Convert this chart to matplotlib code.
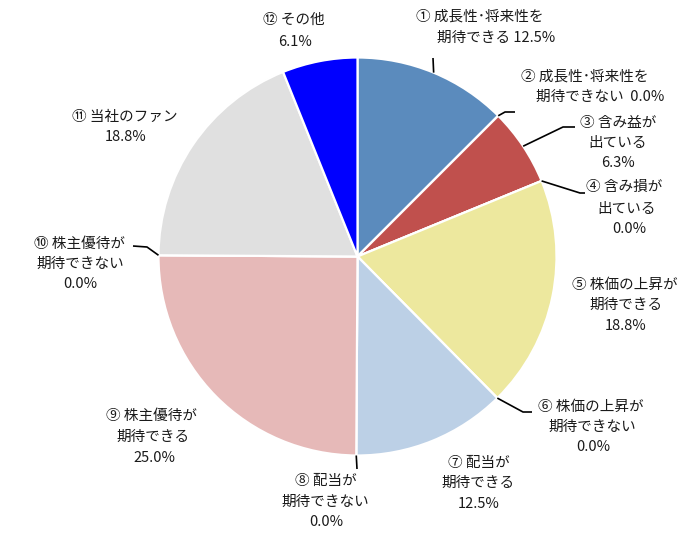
import numpy as np
import matplotlib
matplotlib.use("Agg")
import matplotlib.pyplot as plt

plt.rcParams['font.family'] = ['Noto Sans CJK JP', 'DejaVu Sans']

# ---- data ----
values = [12.5, 0.0, 6.3, 0.0, 18.8, 0.0, 12.5, 0.0, 25.0, 0.0, 18.8, 6.1]
label_lines = [
    ["① 成長性･将来性を", "期待できる 12.5%"],
    ["② 成長性･将来性を", "期待できない  0.0%"],
    ["③ 含み益が", "出ている", "6.3%"],
    ["④ 含み損が", "出ている", "0.0%"],
    ["⑤ 株価の上昇が", "期待できる", "18.8%"],
    ["⑥ 株価の上昇が", "期待できない", "0.0%"],
    ["⑦ 配当が", "期待できる", "12.5%"],
    ["⑧ 配当が", "期待できない", "0.0%"],
    ["⑨ 株主優待が", "期待できる", "25.0%"],
    ["⑩ 株主優待が", "期待できない", "0.0%"],
    ["⑪ 当社のファン", "18.8%"],
    ["⑫ その他", "6.1%"],
]
colors = ["#5B8BBD", "#C0504D", "#C0504D", "#EDE89E", "#EDE89E", "#BCD0E6",
          "#BCD0E6", "#E6B9B8", "#E6B9B8", "#E0E0E0", "#E0E0E0", "#0000FF"]

# ---- layout (pixel coords, y downward) ----
W, H = 690, 539
CX, CY, R = 357.5, 256.5, 199
line_pos = [
    [(480, 17), (496, 38)],
    [(585, 77), (600, 97)],
    [(618, 123), (618, 143), (618, 163)],
    [(624, 187), (627, 209), (629, 229)],
    [(625, 285), (626, 305), (626, 326)],
    [(591, 407), (592, 427), (593, 447)],
    [(479, 463), (478, 483), (479, 504)],
    [(326, 481), (325, 502), (326, 522)],
    [(152, 416), (153, 437), (154, 458)],
    [(80, 244), (80, 264), (80, 284)],
    [(125, 117), (126, 137)],
    [(294, 20), (295, 42)],
]
# leader lines: extra points after the anchor on the pie edge (None = no leader)
leaders = [
    [(433, 58)],
    [(505, 112), (515, 112)],
    [(563, 127), (575, 127)],
    [(580, 193), (585, 193)],
    None,
    [(523, 412), (532, 412)],
    None,
    [(357, 469)],
    None,
    [(147, 247), (133, 246)],
    None,
    None,
]

def Y(y):
    return H - y

fig = plt.figure(figsize=(W / 100, H / 100), dpi=100)
ax = fig.add_axes([0, 0, 1, 1])
ax.pie(values, colors=colors, startangle=90, counterclock=False,
       center=(CX, Y(CY)), radius=R,
       wedgeprops=dict(edgecolor="white", linewidth=1.6))
ax.set_xlim(0, W)
ax.set_ylim(0, H)
ax.set_aspect("equal")
ax.axis("off")

total = sum(values)
cum = 0.0
for i, v in enumerate(values):
    mid = 90 - 360 * (cum + v / 2) / total
    cum += v
    if leaders[i] is not None:
        ax_ = CX + R * np.cos(np.radians(mid))
        ay_ = CY - R * np.sin(np.radians(mid))
        pts = [(ax_, ay_)] + leaders[i]
        ax.plot([p[0] for p in pts], [Y(p[1]) for p in pts], color="black",
                lw=1.2, solid_capstyle="butt")
    for txt, (x, y) in zip(label_lines[i], line_pos[i]):
        ax.text(x, Y(y), txt, ha="center", va="center", fontsize=10.5, color="#1a1a1a")

fig.savefig("out.png", dpi=100)
